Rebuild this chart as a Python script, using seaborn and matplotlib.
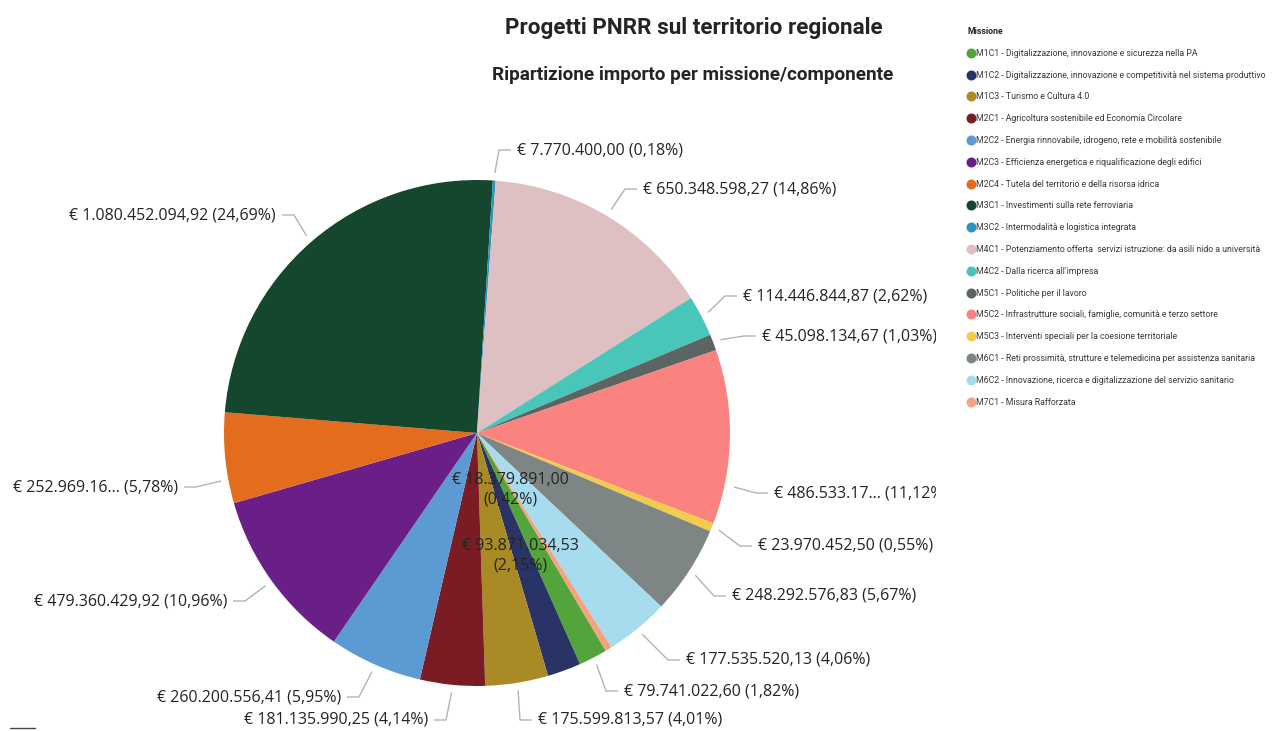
import matplotlib
matplotlib.use("Agg")
import matplotlib.pyplot as plt
import seaborn as sns
from matplotlib.lines import Line2D
from matplotlib.transforms import Bbox, TransformedBbox
from matplotlib import font_manager
import numpy as np

# ---------------- data ----------------
codes = ["M1C1", "M1C2", "M1C3", "M2C1", "M2C2", "M2C3", "M2C4", "M3C1", "M3C2",
         "M4C1", "M4C2", "M5C1", "M5C2", "M5C3", "M6C1", "M6C2", "M7C1"]
descriptions = [
    "Digitalizzazione, innovazione e sicurezza nella PA",
    "Digitalizzazione, innovazione e competitività nel sistema produttivo",
    "Turismo e Cultura 4.0",
    "Agricoltura sostenibile ed Economia Circolare",
    "Energia rinnovabile, idrogeno, rete e mobilità sostenibile",
    "Efficienza energetica e riqualificazione degli edifici",
    "Tutela del territorio e della risorsa idrica",
    "Investimenti sulla rete ferroviaria",
    "Intermodalità e logistica integrata",
    "Potenziamento offerta  servizi istruzione: da asili nido a università",
    "Dalla ricerca all\u2019impresa",
    "Politiche per il lavoro",
    "Infrastrutture sociali, famiglie, comunità e terzo settore",
    "Interventi speciali per la coesione territoriale",
    "Reti prossimità, strutture e telemedicina per assistenza sanitaria",
    "Innovazione, ricerca e digitalizzazione del servizio sanitario",
    "Misura Rafforzata",
]
values = [79741022.60, 93871034.53, 175599813.57, 181135990.25, 260200556.41,
          479360429.92, 252969160.00, 1080452094.92, 7770400.00, 650348598.27,
          114446844.87, 45098134.67, 486533170.00, 23970452.50, 248292576.83,
          177535520.13, 18379891.00]
value_labels = [
    "€ 79.741.022,60 (1,82%)",
    "€ 93.871.034,53\n(2,15%)",
    "€ 175.599.813,57 (4,01%)",
    "€ 181.135.990,25 (4,14%)",
    "€ 260.200.556,41 (5,95%)",
    "€ 479.360.429,92 (10,96%)",
    "€ 252.969.16... (5,78%)",
    "€ 1.080.452.094,92 (24,69%)",
    "€ 7.770.400,00 (0,18%)",
    "€ 650.348.598,27 (14,86%)",
    "€ 114.446.844,87 (2,62%)",
    "€ 45.098.134,67 (1,03%)",
    "€ 486.533.17... (11,12%)",
    "€ 23.970.452,50 (0,55%)",
    "€ 248.292.576,83 (5,67%)",
    "€ 177.535.520,13 (4,06%)",
    "€ 18.379.891,00\n(0,42%)",
]
colors = ["#53A43B", "#2A3366", "#AA8A24", "#7A1C24", "#5B9AD3", "#6A1E88",
          "#E36C1D", "#14472D", "#2C93BC", "#DFC0C2", "#4AC5BA", "#5C6464",
          "#FA827F", "#F3CC4C", "#7D8684", "#A6DCEE", "#F8A17E"]
title = "Progetti PNRR sul territorio regionale"
subtitle = "Ripartizione importo per missione/componente"
legend_title = "Missione"

# ---------------- layout (pixels) ----------------
W, H = 1274, 731
CX, CY, R = 477, 433, 253
label_pos = {
    0: (624, 691, "left"),
    1: (520, 556, "center"),
    2: (538, 720, "left"),
    3: (428, 720, "right"),
    4: (341, 697, "right"),
    5: (227, 601, "right"),
    6: (178, 487, "right"),
    7: (276, 215, "right"),
    8: (517, 150, "left"),
    9: (643, 189, "left"),
    10: (743, 296, "left"),
    11: (762, 336, "left"),
    12: (774, 493, "left"),
    13: (758, 546, "left"),
    14: (732, 596, "left"),
    15: (686, 660, "left"),
    16: (510, 490, "center"),
}
leader_start_override = {12: (734, 487), 6: (221, 481)}
clipped = {11, 12}

sns.set_theme(style="white")
available = {f.name for f in font_manager.fontManager.ttflist}
base_font = "Open Sans" if "Open Sans" in available else "DejaVu Sans"
legend_font = "Roboto" if "Roboto" in available else base_font
plt.rcParams['font.family'] = [base_font, 'DejaVu Sans']

fig = plt.figure(figsize=(W / 100, H / 100), dpi=100)
fig.patch.set_facecolor("white")
ax = fig.add_axes([(CX - R) / W, (H - CY - R) / H, 2 * R / W, 2 * R / H])

total = sum(values)
start = 86.4 + 360.0 * sum(values[:8]) / total
wedges, _ = ax.pie(values, colors=colors, startangle=start, counterclock=False,
                   radius=1, wedgeprops=dict(linewidth=0))
ax.set_xlim(-1, 1)
ax.set_ylim(-1, 1)
ax.set_aspect("equal")
ax.axis("off")

def px2d(x, y):
    return (x - CX) / R, (CY - y) / R

clip_bbox = TransformedBbox(Bbox([[0, 0], [936 / W, 1]]), fig.transFigure)

for i, w in enumerate(wedges):
    lx, ly, ha = label_pos[i]
    dx, dy = px2d(lx, ly)
    t = ax.text(dx, dy, value_labels[i], ha=ha, va="center", fontsize=11.5,
                color="#252423", linespacing=1.25, clip_on=False)
    if i in clipped:
        t.set_clip_on(True)
        t.set_clip_box(clip_bbox)
    if ha == "center":
        continue
    if i in leader_start_override:
        sx, sy = px2d(*leader_start_override[i])
    else:
        mid = np.deg2rad((w.theta1 + w.theta2) / 2)
        sx, sy = 1.03 * np.cos(mid), 1.03 * np.sin(mid)
    s = 1 if ha == "left" else -1
    ex, _ = px2d(lx - s * 18, ly)
    fx, _ = px2d(lx - s * 6, ly)
    ax.plot([sx, ex, fx], [sy, dy, dy], color="#B3B3B3", lw=1, clip_on=False,
            solid_capstyle="butt")

fig.text(694 / W, 1 - 28 / H, title, ha="center", va="center", fontsize=16.2,
         fontweight="bold", color="#252423", family=["Roboto", "DejaVu Sans"])
fig.text(693 / W, 1 - 75 / H, subtitle, ha="center", va="center", fontsize=13.6,
         fontweight="bold", color="#252423", family=["Roboto", "DejaVu Sans"])

handles = [Line2D([0], [0], marker="o", linestyle="none", markersize=7.2,
                  markerfacecolor=c, markeredgewidth=0) for c in colors]
labels = [f"{c} - {d}" for c, d in zip(codes, descriptions)]

def make_legend(size, spacing):
    lg = fig.legend(handles, labels, loc="upper left",
                    bbox_to_anchor=(967 / W, 1 - 27 / H), frameon=False,
                    title=legend_title, alignment="left",
                    prop={"family": legend_font, "size": size},
                    title_fontproperties={"family": legend_font, "size": size,
                                          "weight": "bold"},
                    handlelength=0.8, handletextpad=0.25, labelspacing=spacing,
                    borderpad=0, borderaxespad=0)
    for tx in lg.get_texts():
        tx.set_color("#3B3A39")
    return lg

# fit legend font to the reference text width and row pitch
size, spacing = 7.0, 1.0
leg = make_legend(size, spacing)
fig.canvas.draw()
rend = fig.canvas.get_renderer()
wlong = leg.get_texts()[1].get_window_extent(rend).width
size = size * 292.0 / wlong
leg.remove()
leg = make_legend(size, spacing)
fig.canvas.draw()
ys = [t.get_window_extent(rend).y0 for t in leg.get_texts()]
pitch = (ys[0] - ys[-1]) / (len(ys) - 1)
fs_px = size * 100 / 72
spacing = spacing + (21.8 - pitch) / fs_px
leg.remove()
leg = make_legend(size, spacing)

fig.add_artist(Line2D([10 / W, 35 / W], [1 - 728 / H, 1 - 728 / H], color="#444444", lw=1))

fig.savefig("out.png", dpi=100, facecolor="white")
